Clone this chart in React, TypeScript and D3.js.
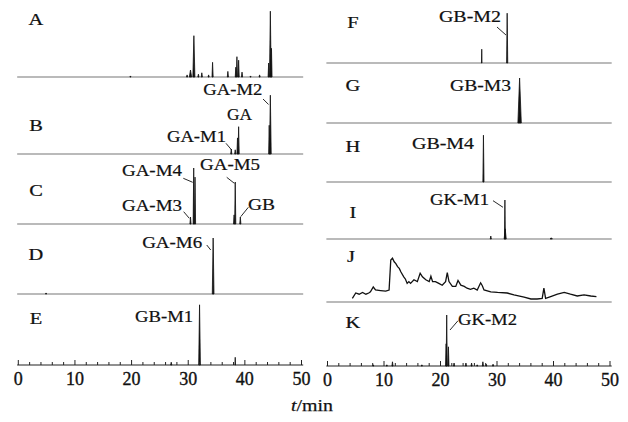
import React from 'react';
import * as d3 from 'd3';

// peaks: [time (min), relative height (% of panel), half width (min)]
type Peak = [number, number, number?];

const peaksA: Peak[] = [
  [19.8, 1.5], [29.8, 3], [30.4, 10, 0.2], [31.0, 59, 0.18], [31.8, 4], [32.4, 6], [33.6, 3],
  [34.3, 21], [37.0, 8], [38.4, 14], [38.6, 29], [38.9, 24], [39.5, 7], [41.0, 1.5],
  [42.6, 3], [44.2, 20], [44.5, 94, 0.15], [44.7, 41],
];
const peaksB: Peak[] = [[37.6, 7], [38.3, 6], [38.7, 23], [38.9, 39], [44.3, 41], [44.5, 84, 0.15]];
const peaksC: Peak[] = [[30.4, 10], [30.97, 80], [31.2, 67], [38.1, 13], [38.3, 60], [39.2, 10]];
const peaksD: Peak[] = [[4.9, 1.5], [34.4, 80, 0.15]];
const peaksE: Peak[] = [[27.0, 4], [32.0, 86, 0.15], [38.3, 11, 0.05]];
const peaksF: Peak[] = [[27.3, 23, 0.05], [31.8, 83, 0.1]];
const peaksG: Peak[] = [[34.0, 75, 0.3]];
const peaksH: Peak[] = [[27.6, 78, 0.1]];
const peaksI: Peak[] = [[28.9, 5], [31.4, 65, 0.08], [31.45, 17, 0.18], [39.6, 2, 0.2]];
const peaksK: Peak[] = [
  [8.1, 2], [10.5, 2], [11.5, 7], [16.7, 2], [21.0, 37], [21.1, 85], [21.4, 32], [22.4, 5],
  [24.5, 5], [25.5, 5], [26.5, 2], [27.5, 7], [28.1, 3], [29.3, 3],
];
// panel J: continuous trace [time, relative intensity]
const traceJ: [number, number][] = [
  [4.4, 6], [5.0, 15], [5.6, 13], [6.2, 16], [6.8, 13], [7.3, 15], [7.6, 17], [8.1, 25], [8.5, 20],
  [9.4, 19], [10.3, 18], [10.9, 20], [11.2, 70], [11.5, 73], [11.8, 67], [12.1, 64], [12.4, 59],
  [12.7, 56], [13.0, 50], [13.5, 42], [13.8, 38], [14.1, 31], [14.4, 34], [14.7, 31], [15.3, 37],
  [15.9, 34], [16.4, 48], [16.8, 42], [17.4, 37], [18.0, 34], [18.3, 43], [18.6, 34], [19.1, 34],
  [19.7, 31], [20.3, 28], [20.9, 34], [21.2, 49], [21.5, 34], [22.1, 26], [22.7, 26], [23.1, 36],
  [23.6, 28], [24.2, 26], [24.7, 23], [25.3, 21], [25.9, 23], [26.5, 20], [27.1, 32], [27.4, 27],
  [27.7, 20], [28.9, 17], [30.1, 16], [31.8, 15], [33.0, 12], [34.8, 8], [36.0, 5], [37.1, 5],
  [38.0, 6], [38.3, 23], [38.6, 6], [39.5, 9], [40.7, 13], [41.9, 16], [43.0, 13], [44.2, 10],
  [45.4, 12], [46.6, 10], [47.6, 9],
];

const ticks = [0, 10, 20, 30, 40, 50];
const minorTicks = d3.range(0, 51, 2);

interface Panel {
  id: string; col: 0 | 1; base: number; H: number;
  peaks?: Peak[]; trace?: [number, number][]; lx: number; ly: number; axis?: boolean;
}

const panels: Panel[] = [
  { id: 'A', col: 0, base: 77, H: 70, peaks: peaksA, lx: 36, ly: 25 },
  { id: 'B', col: 0, base: 154, H: 70, peaks: peaksB, lx: 36, ly: 131 },
  { id: 'C', col: 0, base: 224, H: 70, peaks: peaksC, lx: 36, ly: 196 },
  { id: 'D', col: 0, base: 294, H: 70, peaks: peaksD, lx: 36, ly: 260 },
  { id: 'E', col: 0, base: 365, H: 70, peaks: peaksE, lx: 36, ly: 324, axis: true },
  { id: 'F', col: 1, base: 63, H: 60, peaks: peaksF, lx: 353, ly: 28 },
  { id: 'G', col: 1, base: 123, H: 60, peaks: peaksG, lx: 353, ly: 91 },
  { id: 'H', col: 1, base: 182, H: 60, peaks: peaksH, lx: 353, ly: 152 },
  { id: 'I', col: 1, base: 239, H: 60, peaks: peaksI, lx: 353, ly: 218 },
  { id: 'J', col: 1, base: 302, H: 60, trace: traceJ, lx: 351, ly: 262 },
  { id: 'K', col: 1, base: 366, H: 60, peaks: peaksK, lx: 353, ly: 328, axis: true },
];

// annotations: label placed relative to (x(t), panel baseline)
interface Note { panel: string; text: string; t: number; dx: number; dy: number; w: number; lead?: number[] }
const notes: Note[] = [
  { panel: 'B', text: 'GA-M2', t: 44.5, dx: -67, dy: -59, w: 59, lead: [-7.3, -55, -1.8, -49.5] },
  { panel: 'B', text: 'GA', t: 38.9, dx: -11.6, dy: -34.5, w: 25 },
  { panel: 'B', text: 'GA-M1', t: 37.6, dx: -64.3, dy: -12, w: 59, lead: [-5.3, -10.7, 0.4, -4] },
  { panel: 'C', text: 'GA-M4', t: 30.97, dx: -71.7, dy: -48, w: 60, lead: [-10.4, -45.7, -1, -41.7] },
  { panel: 'C', text: 'GA-M3', t: 30.4, dx: -68.5, dy: -13, w: 60, lead: [-6.8, -12.3, -1.2, -5.7] },
  { panel: 'C', text: 'GA-M5', t: 38.3, dx: -35.2, dy: -54, w: 60, lead: [-8.5, -46.7, -0.9, -40.7] },
  { panel: 'C', text: 'GB', t: 39.2, dx: 7.7, dy: -14, w: 27, lead: [8, -16.7, 0.4, -7.3] },
  { panel: 'D', text: 'GA-M6', t: 34.4, dx: -71, dy: -46, w: 60, lead: [-6.4, -49, -2.4, -44] },
  { panel: 'E', text: 'GB-M1', t: 32.0, dx: -64.5, dy: -43, w: 58 },
  { panel: 'F', text: 'GB-M2', t: 31.8, dx: -68.2, dy: -41, w: 62, lead: [-10.2, -36, -1.2, -28] },
  { panel: 'G', text: 'GB-M3', t: 34.0, dx: -69.6, dy: -32, w: 61 },
  { panel: 'H', text: 'GB-M4', t: 27.6, dx: -71.4, dy: -33, w: 62 },
  { panel: 'I', text: 'GK-M1', t: 31.4, dx: -74.9, dy: -34, w: 59, lead: [-11.9, -38.3, -1.9, -31.7] },
  { panel: 'K', text: 'GK-M2', t: 21.1, dx: 11.3, dy: -41, w: 59, lead: [11.3, -45.3, 3.3, -36] },
];

const xScales = [
  d3.scaleLinear().domain([0, 50]).range([18.3, 301.5]),
  d3.scaleLinear().domain([0, 50]).range([327.5, 610]),
];

const FONT = '"Liberation Serif", serif';

export default function App() {
  return (
    <div style={{ position: 'absolute', left: 0, top: 0 }}>
      <svg width={628} height={422} style={{ display: 'block', background: '#fff' }} fontFamily={FONT}>
        {panels.map(p => {
          const x = xScales[p.col];
          const y = d3.scaleLinear().domain([0, 100]).range([p.base, p.base - p.H]);
          const line = d3.line<[number, number]>().x(d => x(d[0])).y(d => y(d[1]));
          return (
            <g key={p.id}>
              <line x1={x(-0.2)} x2={x(50.3)} y1={p.base} y2={p.base}
                stroke={p.axis ? '#222' : '#777'} strokeWidth={1.1} />
              {p.peaks && p.peaks.map((pk, i) => {
                const w = pk[2] ?? 0.1;
                const d = `M${x(pk[0] - w)},${y(0)}L${x(pk[0])},${y(pk[1])}L${x(pk[0] + w)},${y(0)}Z`;
                return <path key={i} d={d} fill="#111" stroke="#111" strokeWidth={0.8} strokeLinejoin="round" />;
              })}
              {p.trace && <path d={line(p.trace) ?? ''} fill="none" stroke="#111" strokeWidth={1.3} />}
              <text x={p.lx} y={p.ly} fontSize={17} textAnchor="middle" fill="#111" stroke="#111" strokeWidth={0.25}
                transform={`translate(${p.lx},0) scale(1.2,1) translate(${-p.lx},0)`}>{p.id}</text>
              {p.axis && (
                <g>
                  {minorTicks.map(t => (
                    <line key={t} x1={x(t)} x2={x(t)} y1={p.base} y2={p.base - (t % 10 === 0 ? 5 : 3)}
                      stroke="#222" strokeWidth={1} />
                  ))}
                  {ticks.map(t => (
                    <text key={t} x={x(t)} y={p.base + 20} fontSize={18} textAnchor="middle" fill="#111"
                      stroke="#111" strokeWidth={0.35}>{t}</text>
                  ))}
                </g>
              )}
            </g>
          );
        })}
        {notes.map(n => {
          const p = panels.find(q => q.id === n.panel)!;
          const x0 = xScales[p.col](n.t);
          const y0 = p.base;
          return (
            <g key={n.text}>
              <text x={x0 + n.dx} y={y0 + n.dy} fontSize={16} fill="#111" stroke="#111" strokeWidth={0.2}
                textLength={n.w} lengthAdjust="spacingAndGlyphs">{n.text}</text>
              {n.lead && (
                <line x1={x0 + n.lead[0]} y1={y0 + n.lead[1]} x2={x0 + n.lead[2]} y2={y0 + n.lead[3]}
                  stroke="#111" strokeWidth={0.9} />
              )}
            </g>
          );
        })}
        <text x={312} y={411} fontSize={17.5} textAnchor="middle" fill="#111" stroke="#111" strokeWidth={0.25}
          textLength={42} lengthAdjust="spacingAndGlyphs">
          <tspan fontStyle="italic">t</tspan>/min
        </text>
      </svg>
    </div>
  );
}
